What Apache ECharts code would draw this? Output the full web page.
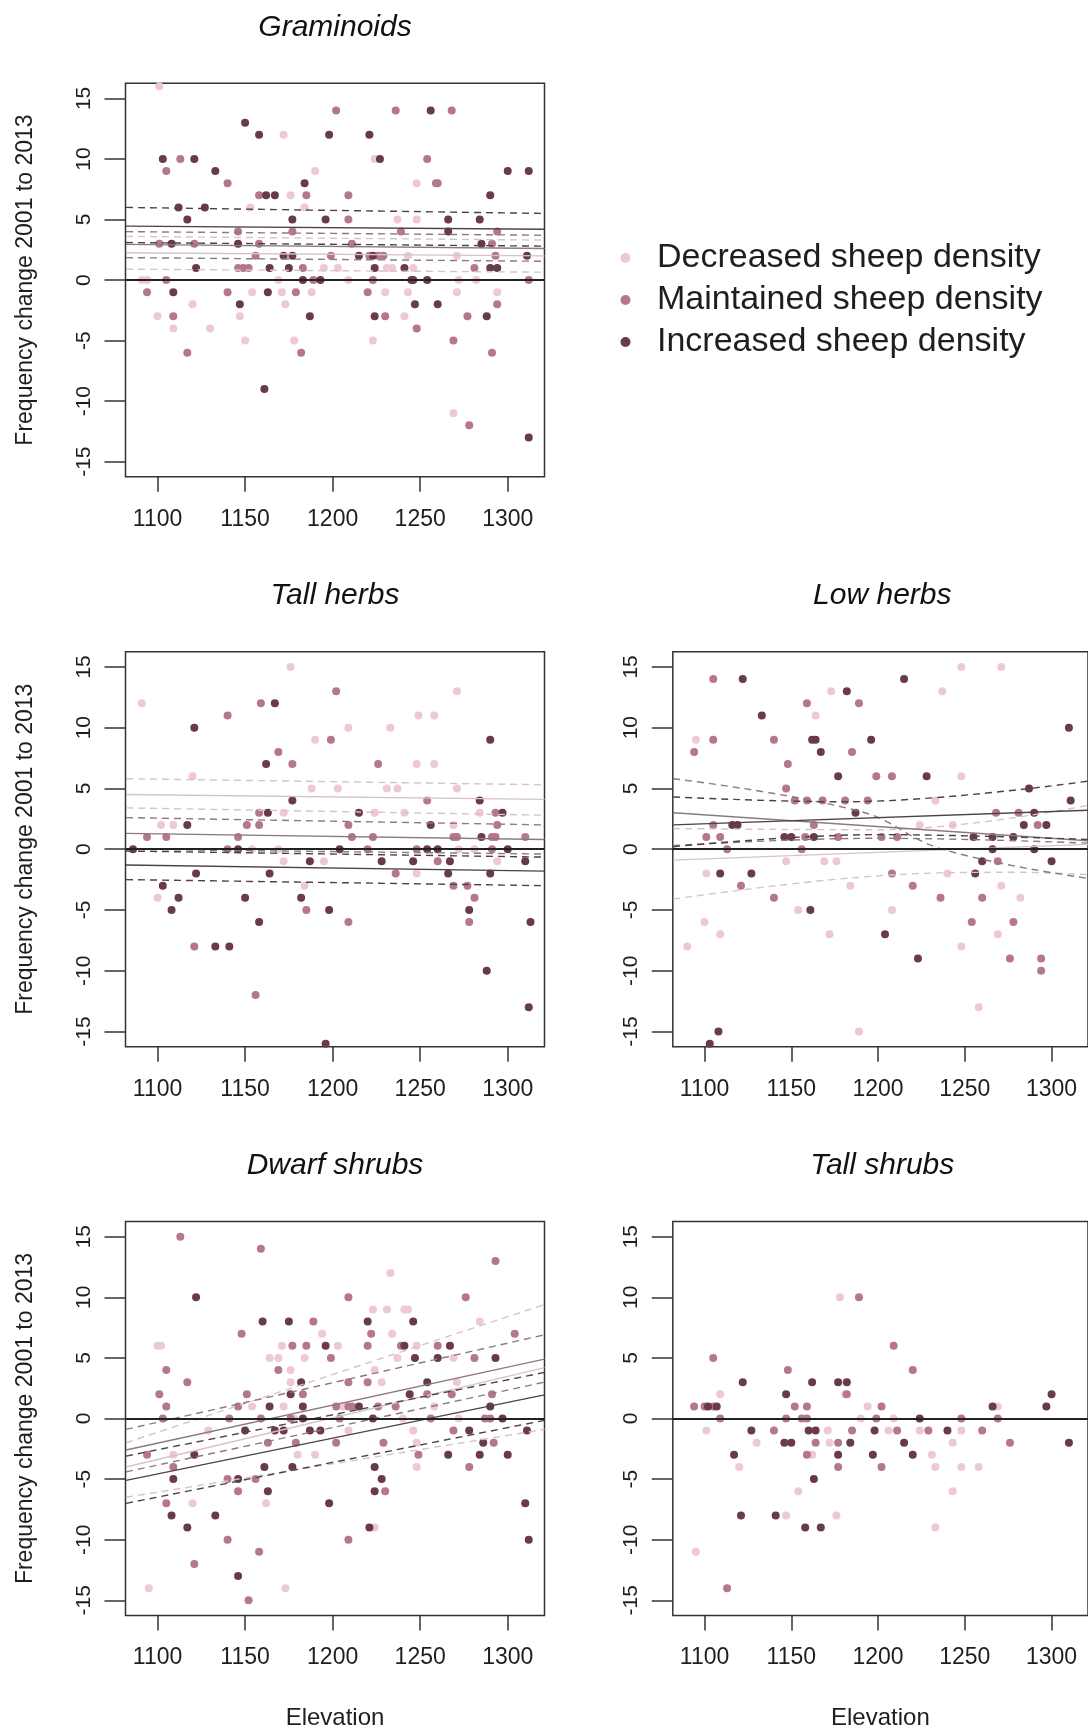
<!DOCTYPE html>
<html>
<head>
<meta charset="utf-8">
<title>Frequency change 2001 to 2013 by elevation</title>
<script src="https://cdn.jsdelivr.net/npm/echarts@6/dist/echarts.min.js"></script>
<style>
  html, body { margin: 0; padding: 0; background: #fff; }
  #chart { width: 1088px; height: 1733px; }
</style>
</head>
<body>
<div id="chart"></div>
<script>
// axis ticks and names
const elevationTicks = [1100, 1150, 1200, 1250, 1300];
const changeTicks = [-15, -10, -5, 0, 5, 10, 15];
const groupNames = ['Decreased sheep density', 'Maintained sheep density', 'Increased sheep density'];
const panelTitles = ['Graminoids', 'Tall herbs', 'Low herbs', 'Dwarf shrubs', 'Tall shrubs'];

// Graminoids: [elevation, frequency change]
const graminoidsDecreased = [[1101,16],[1172,12],[1224,10],[1190,9],[1248,8],[1176,7],[1153,6],[1184,6],[1237,5],[1248,5],[1243,2],[1271,2],[1195,1],[1203,1],[1231,1],[1234,1],[1246,1],[1091,0],[1094,0],[1169,0],[1209,0],[1272,0],[1282,0],[1154,-1],[1171,-1],[1188,-1],[1230,-1],[1243,-1],[1271,-1],[1294,-1],[1120,-2],[1173,-2],[1100,-3],[1147,-3],[1241,-3],[1109,-4],[1130,-4],[1150,-5],[1178,-5],[1223,-5],[1269,-11]];
const graminoidsMaintained = [[1202,14],[1236,14],[1268,14],[1113,10],[1254,10],[1105,9],[1140,8],[1259,8],[1260,8],[1158,7],[1185,7],[1209,7],[1209,5],[1146,4],[1177,4],[1239,4],[1294,4],[1101,3],[1121,3],[1158,3],[1211,3],[1291,3],[1156,2],[1199,2],[1221,2],[1226,2],[1229,2],[1293,2],[1146,1],[1149,1],[1152,1],[1183,1],[1281,1],[1105,0],[1189,0],[1223,0],[1312,0],[1094,-1],[1140,-1],[1179,-1],[1220,-1],[1294,-2],[1109,-3],[1230,-3],[1277,-3],[1248,-4],[1269,-5],[1117,-6],[1182,-6],[1291,-6],[1278,-12]];
const graminoidsIncreased = [[1256,14],[1150,13],[1158,12],[1198,12],[1221,12],[1103,10],[1121,10],[1227,10],[1133,9],[1300,9],[1312,9],[1184,8],[1162,7],[1167,7],[1290,7],[1112,6],[1127,6],[1117,5],[1177,5],[1196,5],[1266,5],[1284,5],[1266,4],[1108,3],[1146,3],[1285,3],[1172,2],[1177,2],[1215,2],[1223,2],[1311,2],[1122,1],[1164,1],[1175,1],[1224,1],[1241,1],[1290,1],[1294,1],[1183,0],[1193,0],[1245,0],[1246,0],[1254,0],[1109,-1],[1163,-1],[1147,-2],[1247,-2],[1260,-2],[1187,-3],[1224,-3],[1288,-3],[1161,-9],[1312,-13]];
// fitted line, upper band, lower band
const graminoidsFitDecreased = [[[1082,2.25],[1321,2.0]], [[1082,3.6],[1321,3.3]], [[1082,0.9],[1321,0.65]]];
const graminoidsFitMaintained = [[[1082,2.95],[1321,2.6]], [[1082,4.0],[1321,3.7]], [[1082,1.85],[1321,1.55]]];
const graminoidsFitIncreased = [[[1082,4.45],[1321,4.2]], [[1082,6.0],[1321,5.5]], [[1082,3.1],[1321,2.8]]];

// Tall herbs
const tallHerbsDecreased = [[1176,15],[1271,13],[1091,12],[1249,11],[1258,11],[1209,10],[1233,10],[1190,9],[1248,7],[1258,7],[1120,6],[1188,5],[1203,5],[1231,5],[1237,5],[1271,5],[1172,3],[1224,3],[1241,3],[1284,3],[1102,2],[1109,2],[1269,2],[1154,0],[1169,0],[1272,0],[1281,0],[1172,-1],[1195,-1],[1294,-1],[1248,-2],[1184,-3],[1100,-4]];
const tallHerbsMaintained = [[1202,13],[1159,12],[1140,11],[1199,9],[1169,8],[1177,7],[1226,7],[1254,4],[1158,3],[1293,3],[1151,2],[1158,2],[1209,2],[1294,2],[1094,1],[1105,1],[1146,1],[1211,1],[1223,1],[1269,1],[1271,1],[1291,1],[1293,1],[1310,1],[1140,0],[1220,0],[1248,0],[1291,0],[1260,-1],[1236,-2],[1269,-3],[1277,-3],[1281,-4],[1185,-5],[1209,-6],[1278,-6],[1121,-8],[1156,-12]];
const tallHerbsIncreased = [[1167,12],[1121,10],[1290,9],[1162,7],[1177,4],[1284,4],[1163,3],[1215,3],[1297,3],[1117,2],[1256,2],[1285,1],[1086,0],[1146,0],[1204,0],[1254,0],[1260,0],[1300,0],[1187,-1],[1228,-1],[1246,-1],[1267,-1],[1310,-1],[1122,-2],[1164,-2],[1266,-2],[1290,-2],[1103,-3],[1112,-4],[1150,-4],[1182,-4],[1108,-5],[1198,-5],[1278,-5],[1158,-6],[1313,-6],[1133,-8],[1141,-8],[1288,-10],[1312,-13],[1196,-16]];
const tallHerbsFitDecreased = [[[1082,4.5],[1321,4.1]], [[1082,5.8],[1321,5.3]], [[1082,3.4],[1321,2.8]]];
const tallHerbsFitMaintained = [[[1082,1.3],[1321,0.8]], [[1082,2.6],[1321,2.0]], [[1082,0.0],[1321,-0.4]]];
const tallHerbsFitIncreased = [[[1082,-1.3],[1321,-1.8]], [[1082,-0.15],[1321,-0.65]], [[1082,-2.5],[1321,-3.0]]];

// Low herbs
const lowHerbsDecreased = [[1248,15],[1271,15],[1173,13],[1237,13],[1164,11],[1095,9],[1248,6],[1233,4],[1224,2],[1243,2],[1147,-1],[1169,-1],[1176,-1],[1101,-2],[1240,-2],[1184,-3],[1271,-3],[1282,-4],[1154,-5],[1208,-5],[1100,-6],[1109,-7],[1172,-7],[1269,-7],[1090,-8],[1248,-8],[1258,-13],[1189,-15]];
const lowHerbsMaintained = [[1105,14],[1159,12],[1189,12],[1105,9],[1140,9],[1094,8],[1185,8],[1148,7],[1199,6],[1208,6],[1147,5],[1152,4],[1159,4],[1168,4],[1181,4],[1194,4],[1268,3],[1281,3],[1105,2],[1163,2],[1292,2],[1101,1],[1109,1],[1158,1],[1177,1],[1202,1],[1211,1],[1113,0],[1156,0],[1269,-1],[1208,-2],[1121,-3],[1220,-3],[1140,-4],[1236,-4],[1260,-4],[1254,-6],[1278,-6],[1276,-9],[1294,-9],[1294,-10]];
const lowHerbsIncreased = [[1122,14],[1215,14],[1182,13],[1133,11],[1310,10],[1162,9],[1164,9],[1196,9],[1167,8],[1177,6],[1228,6],[1287,5],[1311,4],[1187,3],[1290,3],[1116,2],[1119,2],[1284,2],[1297,2],[1146,1],[1150,1],[1163,1],[1255,1],[1266,1],[1278,1],[1266,0],[1290,0],[1260,-1],[1300,-1],[1109,-2],[1127,-2],[1256,-2],[1161,-5],[1204,-7],[1223,-9],[1108,-15],[1103,-16]];
const lowHerbsFitDecreased = [[[1082,-0.9],[1321,0.4]], [[1082,1.7],[1200,1.6],[1321,3.6]], [[1082,-4.1],[1190,-2.3],[1280,-1.9],[1321,-2.1]]];
const lowHerbsFitMaintained = [[[1082,3.0],[1321,0.7]], [[1082,5.8],[1190,3.1],[1237,0.0],[1321,-2.4]], [[1082,0.3],[1200,0.9],[1321,0.5]]];
const lowHerbsFitIncreased = [[[1082,2.0],[1321,3.2]], [[1082,4.3],[1180,3.9],[1321,5.6]], [[1082,0.2],[1200,1.2],[1321,0.8]]];

// Dwarf shrubs
const dwarfShrubsDecreased = [[1233,12],[1223,9],[1231,9],[1241,9],[1243,9],[1284,8],[1194,7],[1234,7],[1100,6],[1102,6],[1171,6],[1203,6],[1248,6],[1164,5],[1169,5],[1184,5],[1237,5],[1269,5],[1176,4],[1224,4],[1176,3],[1228,3],[1271,3],[1154,1],[1172,1],[1206,1],[1258,1],[1178,0],[1240,0],[1272,0],[1129,-1],[1209,-1],[1246,-1],[1248,-2],[1109,-3],[1180,-3],[1190,-3],[1248,-4],[1120,-7],[1162,-7],[1224,-9],[1095,-14],[1173,-14]];
const dwarfShrubsMaintained = [[1113,15],[1159,14],[1293,13],[1209,10],[1276,10],[1189,8],[1148,7],[1222,7],[1304,7],[1177,6],[1185,6],[1220,6],[1239,6],[1260,6],[1199,5],[1281,5],[1105,4],[1169,4],[1117,3],[1209,3],[1220,3],[1101,2],[1151,2],[1183,2],[1254,2],[1268,2],[1291,2],[1105,1],[1146,1],[1202,1],[1209,1],[1211,1],[1226,1],[1236,1],[1103,0],[1141,0],[1159,0],[1176,0],[1204,0],[1256,0],[1287,0],[1290,0],[1269,-1],[1163,-2],[1179,-2],[1202,-2],[1229,-2],[1292,-2],[1094,-3],[1249,-3],[1109,-4],[1278,-4],[1140,-5],[1156,-5],[1146,-6],[1230,-6],[1105,-7],[1140,-10],[1209,-10],[1158,-11],[1121,-12],[1152,-15]];
const dwarfShrubsIncreased = [[1122,10],[1160,8],[1175,8],[1220,8],[1246,8],[1196,6],[1241,6],[1267,6],[1247,5],[1260,5],[1293,5],[1182,3],[1254,3],[1176,2],[1244,2],[1164,1],[1183,1],[1215,1],[1290,1],[1183,0],[1223,0],[1297,0],[1150,-1],[1167,-1],[1172,-1],[1187,-1],[1193,-1],[1278,-1],[1311,-1],[1286,-2],[1121,-3],[1266,-3],[1284,-3],[1300,-3],[1161,-4],[1177,-4],[1224,-4],[1109,-5],[1146,-5],[1228,-5],[1163,-6],[1224,-6],[1198,-7],[1310,-7],[1108,-8],[1133,-8],[1117,-9],[1221,-9],[1312,-10],[1146,-13]];
const dwarfShrubsFitDecreased = [[[1082,-4.0],[1321,4.2]], [[1082,-2.0],[1321,9.4]], [[1082,-6.5],[1321,-0.9]]];
const dwarfShrubsFitMaintained = [[[1082,-2.6],[1321,4.9]], [[1082,-0.9],[1321,6.9]], [[1082,-4.4],[1321,3.0]]];
const dwarfShrubsFitIncreased = [[[1082,-5.1],[1321,1.95]], [[1082,-3.1],[1321,3.8]], [[1082,-7.0],[1321,-0.15]]];

// Tall shrubs (no fitted lines)
const tallShrubsDecreased = [[1178,10],[1109,2],[1181,2],[1194,1],[1269,1],[1190,0],[1209,0],[1101,-1],[1171,-1],[1206,-1],[1224,-1],[1248,-1],[1130,-2],[1172,-2],[1243,-2],[1162,-3],[1231,-3],[1120,-4],[1233,-4],[1248,-4],[1258,-4],[1154,-6],[1243,-6],[1147,-8],[1176,-8],[1233,-9],[1095,-11]];
const tallShrubsMaintained = [[1189,10],[1209,6],[1105,5],[1148,4],[1220,4],[1182,2],[1094,1],[1100,1],[1105,1],[1152,1],[1159,1],[1202,1],[1109,0],[1147,0],[1156,0],[1159,0],[1199,0],[1248,0],[1269,0],[1140,-1],[1185,-1],[1211,-1],[1229,-1],[1260,-1],[1164,-2],[1177,-2],[1276,-2],[1159,-3],[1177,-4],[1202,-4],[1113,-14]];
const tallShrubsIncreased = [[1122,3],[1162,3],[1177,3],[1182,3],[1147,2],[1300,2],[1102,1],[1107,1],[1266,1],[1297,1],[1224,0],[1127,-1],[1160,-1],[1164,-1],[1198,-1],[1240,-1],[1146,-2],[1150,-2],[1184,-2],[1215,-2],[1310,-2],[1117,-3],[1177,-3],[1197,-3],[1220,-3],[1163,-5],[1121,-8],[1141,-8],[1158,-9],[1167,-9]];

const fontFamily = '"Liberation Sans", Arial, Helvetica, sans-serif';
const pointColors = ['#efc8d5', '#b5778f', '#693a4d'];
const lineColors = ['#d6c3ca', '#8c7a82', '#4e4248'];

// panel layout (pixels)
const boxWidth = 419;
const panels = [
  { title: panelTitles[0], left: 125.5, top: 83.3, height: 393.5, yName: true, xName: false,
    points: [graminoidsDecreased, graminoidsMaintained, graminoidsIncreased],
    fits: [graminoidsFitDecreased, graminoidsFitMaintained, graminoidsFitIncreased] },
  { title: panelTitles[1], left: 125.5, top: 651.7, height: 395, yName: true, xName: false,
    points: [tallHerbsDecreased, tallHerbsMaintained, tallHerbsIncreased],
    fits: [tallHerbsFitDecreased, tallHerbsFitMaintained, tallHerbsFitIncreased] },
  { title: panelTitles[2], left: 672.8, top: 651.7, height: 395, yName: false, xName: false,
    points: [lowHerbsDecreased, lowHerbsMaintained, lowHerbsIncreased],
    fits: [lowHerbsFitDecreased, lowHerbsFitMaintained, lowHerbsFitIncreased] },
  { title: panelTitles[3], left: 125.5, top: 1221.5, height: 394, yName: true, xName: true,
    points: [dwarfShrubsDecreased, dwarfShrubsMaintained, dwarfShrubsIncreased],
    fits: [dwarfShrubsFitDecreased, dwarfShrubsFitMaintained, dwarfShrubsFitIncreased] },
  { title: panelTitles[4], left: 672.8, top: 1221.5, height: 394, yName: false, xName: true,
    points: [tallShrubsDecreased, tallShrubsMaintained, tallShrubsIncreased],
    fits: [] }
];

const textColor = '#1e1e1e';
const axisColor = '#333';

const series = [];
panels.forEach((p, i) => {
  p.points.forEach((pts, g) => {
    const s = {
      name: groupNames[g],
      type: 'scatter',
      xAxisIndex: i,
      yAxisIndex: i,
      data: pts,
      symbol: 'circle',
      symbolSize: 8,
      itemStyle: { color: pointColors[g], opacity: 1 },
      z: 2,
      silent: true
    };
    if (g === 0) {
      // horizontal reference line at zero
      s.markLine = {
        silent: true,
        symbol: ['none', 'none'],
        label: { show: false },
        lineStyle: { color: '#222', width: 2, type: 'solid' },
        data: [{ yAxis: 0 }]
      };
    }
    series.push(s);
  });
  p.fits.forEach((set, g) => {
    set.forEach((line, k) => {
      series.push({
        type: 'line',
        xAxisIndex: i,
        yAxisIndex: i,
        data: line,
        showSymbol: false,
        symbol: 'none',
        smooth: line.length > 2 ? 0.4 : false,
        silent: true,
        z: 3,
        lineStyle: { color: lineColors[g], width: 1.4, type: k === 0 ? 'solid' : [7, 5] }
      });
    });
  });
});

const option = {
  animation: false,
  backgroundColor: '#fff',
  textStyle: { fontFamily },
  title: panels.map(p => ({
    text: p.title,
    left: p.left + boxWidth / 2,
    top: p.top - 71,
    textAlign: 'center',
    padding: 0,
    textStyle: { fontSize: 30, fontStyle: 'italic', fontWeight: 'normal', color: '#111', fontFamily }
  })),
  legend: {
    data: groupNames.map(n => ({ name: n, icon: 'circle' })),
    orient: 'vertical',
    left: 620.5,
    top: 241,
    padding: 0,
    itemWidth: 53,
    itemHeight: 10,
    itemGap: 8,
    selectedMode: false,
    textStyle: { fontSize: 34, color: textColor, fontFamily, lineHeight: 34 }
  },
  grid: panels.map(p => ({
    left: p.left,
    top: p.top,
    width: boxWidth,
    height: p.height,
    show: true,
    borderColor: axisColor,
    borderWidth: 1.5,
    backgroundColor: 'rgba(0,0,0,0)'
  })),
  xAxis: panels.map((p, i) => ({
    gridIndex: i,
    type: 'value',
    min: 1081.7,
    max: 1321,
    axisLine: { show: false, onZero: false },
    splitLine: { show: false },
    axisTick: { show: true, customValues: elevationTicks, length: 15, lineStyle: { color: axisColor, width: 1.5 } },
    axisLabel: { customValues: elevationTicks, formatter: v => String(v), fontSize: 23, color: textColor, margin: 31, fontFamily },
    name: p.xName ? 'Elevation' : '',
    nameLocation: 'middle',
    nameGap: 91,
    nameTextStyle: { fontSize: 24, color: textColor, fontFamily }
  })),
  yAxis: panels.map((p, i) => ({
    gridIndex: i,
    type: 'value',
    min: -16.25,
    max: 16.25,
    axisLine: { show: false, onZero: false },
    splitLine: { show: false },
    axisTick: { show: true, customValues: changeTicks, length: 21, lineStyle: { color: axisColor, width: 1.5 } },
    axisLabel: { customValues: changeTicks, formatter: v => String(v), rotate: 90, fontSize: 21, color: textColor, margin: 31, fontFamily },
    name: p.yName ? 'Frequency change 2001 to 2013' : '',
    nameLocation: 'middle',
    nameRotate: 90,
    nameGap: 88,
    nameTextStyle: { fontSize: 23, color: textColor, fontFamily }
  })),
  series
};

const chart = echarts.init(document.getElementById('chart'), null, { renderer: 'canvas' });
chart.setOption(option);
window.addEventListener('resize', () => chart.resize());
</script>
</body>
</html>
